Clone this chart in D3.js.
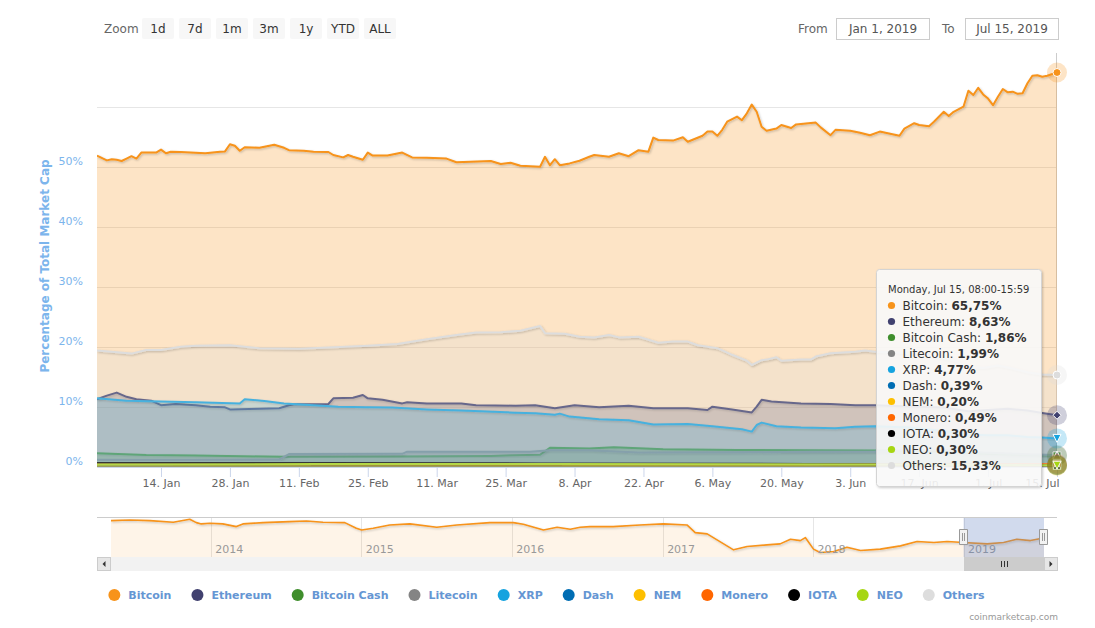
<!DOCTYPE html>
<html>
  <head>
    <meta charset="utf-8">
    <title>Percentage of Total Market Cap</title>
    <script src="https://d3js.org/d3.v7.min.js"></script>
    <style>
      body { margin: 0; background: #ffffff; }
      #canvas { display: block; font-family: "DejaVu Sans", sans-serif; }
    </style>
  </head>

  <body>
    <svg id="canvas" width="1095" height="628"></svg>
    <script>
      // values, percent of total market cap
      const bitcoin = [
        ["2019-01-01", 51.9], ["2019-01-03", 51.1], ["2019-01-04", 51.3], ["2019-01-05", 51.2],
        ["2019-01-06", 51.0], ["2019-01-07", 51.4], ["2019-01-08", 51.8], ["2019-01-09", 51.4],
        ["2019-01-10", 52.4], ["2019-01-13", 52.4], ["2019-01-14", 52.9], ["2019-01-15", 52.3],
        ["2019-01-16", 52.55], ["2019-01-18", 52.5], ["2019-01-23", 52.3], ["2019-01-26", 52.55],
        ["2019-01-27", 52.6], ["2019-01-28", 53.8], ["2019-01-29", 53.55], ["2019-01-30", 52.7],
        ["2019-01-31", 53.3], ["2019-02-03", 53.2], ["2019-02-06", 53.7], ["2019-02-08", 53.2],
        ["2019-02-09", 52.8], ["2019-02-12", 52.7], ["2019-02-14", 52.55], ["2019-02-17", 52.5],
        ["2019-02-18", 52.0], ["2019-02-20", 51.6], ["2019-02-21", 52.0], ["2019-02-22", 51.7],
        ["2019-02-24", 51.2], ["2019-02-25", 52.4], ["2019-02-26", 51.9], ["2019-03-01", 51.9],
        ["2019-03-04", 52.4], ["2019-03-06", 51.6], ["2019-03-09", 51.55], ["2019-03-13", 51.4],
        ["2019-03-15", 50.8], ["2019-03-22", 51.0], ["2019-03-24", 50.5], ["2019-03-26", 50.7],
        ["2019-03-28", 50.2], ["2019-04-01", 50.05], ["2019-04-02", 51.7], ["2019-04-03", 50.3],
        ["2019-04-04", 51.3], ["2019-04-05", 50.3], ["2019-04-07", 50.6], ["2019-04-09", 51.05],
        ["2019-04-11", 51.7], ["2019-04-12", 52.0], ["2019-04-15", 51.7], ["2019-04-17", 52.3],
        ["2019-04-19", 51.8], ["2019-04-21", 52.8], ["2019-04-23", 52.55], ["2019-04-24", 54.9],
        ["2019-04-25", 54.5], ["2019-04-28", 54.4], ["2019-04-30", 54.95], ["2019-05-01", 54.2],
        ["2019-05-04", 55.2], ["2019-05-05", 55.9], ["2019-05-06", 55.9], ["2019-05-07", 55.2],
        ["2019-05-08", 56.2], ["2019-05-09", 57.55], ["2019-05-11", 58.4], ["2019-05-12", 57.8],
        ["2019-05-13", 58.95], ["2019-05-14", 60.4], ["2019-05-15", 59.2], ["2019-05-16", 56.7],
        ["2019-05-17", 56.05], ["2019-05-19", 56.4], ["2019-05-20", 57.0], ["2019-05-22", 56.5],
        ["2019-05-23", 57.1], ["2019-05-27", 57.4], ["2019-05-28", 56.6], ["2019-05-30", 55.3],
        ["2019-05-31", 56.2], ["2019-06-03", 56.05], ["2019-06-05", 55.7], ["2019-06-07", 55.3],
        ["2019-06-09", 55.9], ["2019-06-13", 55.2], ["2019-06-14", 56.4], ["2019-06-16", 57.3],
        ["2019-06-17", 57.0], ["2019-06-19", 56.8], ["2019-06-20", 57.55], ["2019-06-22", 59.2],
        ["2019-06-23", 58.5], ["2019-06-24", 59.2], ["2019-06-26", 60.05], ["2019-06-27", 62.7],
        ["2019-06-28", 62.0], ["2019-06-29", 63.2], ["2019-06-30", 62.1], ["2019-07-01", 61.4],
        ["2019-07-02", 60.3], ["2019-07-03", 61.7], ["2019-07-04", 63.0], ["2019-07-05", 62.45],
        ["2019-07-06", 62.55], ["2019-07-07", 62.2], ["2019-07-08", 62.3], ["2019-07-09", 63.95],
        ["2019-07-10", 65.2], ["2019-07-11", 65.3], ["2019-07-12", 65.05], ["2019-07-13", 65.2],
        ["2019-07-15", 65.75]
      ];
      const ethereum = [
        ["2019-01-01", 11.3], ["2019-01-03", 11.9], ["2019-01-05", 12.4], ["2019-01-07", 11.7],
        ["2019-01-09", 11.3], ["2019-01-12", 11.05], ["2019-01-14", 10.3], ["2019-01-17", 10.5],
        ["2019-01-21", 10.3], ["2019-01-24", 10.05], ["2019-01-27", 9.95], ["2019-01-28", 9.6],
        ["2019-02-03", 9.7], ["2019-02-07", 9.8], ["2019-02-09", 10.3], ["2019-02-10", 10.45],
        ["2019-02-17", 10.5], ["2019-02-18", 11.45], ["2019-02-22", 11.55], ["2019-02-24", 12.0],
        ["2019-02-25", 11.45], ["2019-02-28", 11.2], ["2019-03-04", 10.6], ["2019-03-05", 10.8],
        ["2019-03-09", 10.6], ["2019-03-16", 10.6], ["2019-03-19", 10.3], ["2019-03-27", 10.2],
        ["2019-03-31", 10.3], ["2019-04-04", 9.8], ["2019-04-08", 10.3], ["2019-04-13", 9.95],
        ["2019-04-19", 10.2], ["2019-04-24", 9.8], ["2019-05-01", 9.8], ["2019-05-05", 9.5],
        ["2019-05-06", 10.05], ["2019-05-10", 9.6], ["2019-05-14", 9.1], ["2019-05-15", 10.05],
        ["2019-05-16", 11.2], ["2019-05-18", 10.9], ["2019-05-24", 10.6], ["2019-05-30", 10.5],
        ["2019-06-04", 10.3], ["2019-06-08", 10.3], ["2019-06-15", 10.1], ["2019-06-22", 9.9],
        ["2019-06-27", 9.3], ["2019-07-01", 9.5], ["2019-07-05", 9.7], ["2019-07-09", 9.4],
        ["2019-07-12", 9.0], ["2019-07-15", 8.63]
      ];
      const bitcoinCash = [
        ["2019-01-01", 2.3], ["2019-01-11", 2.0], ["2019-01-21", 1.9], ["2019-02-08", 1.7],
        ["2019-03-02", 1.75], ["2019-03-22", 1.85], ["2019-04-01", 2.05], ["2019-04-03", 3.2],
        ["2019-04-11", 3.1], ["2019-04-16", 3.3], ["2019-04-26", 2.95], ["2019-05-11", 2.85],
        ["2019-05-26", 2.8], ["2019-06-08", 2.75], ["2019-06-20", 2.6], ["2019-06-30", 2.2],
        ["2019-07-10", 2.0], ["2019-07-15", 1.86]
      ];
      const litecoin = [
        ["2019-01-01", 1.2], ["2019-01-21", 1.2], ["2019-02-07", 1.25], ["2019-02-09", 2.15],
        ["2019-03-04", 2.2], ["2019-03-05", 2.55], ["2019-03-30", 2.55], ["2019-04-03", 2.8],
        ["2019-04-11", 2.8], ["2019-04-21", 2.4], ["2019-05-11", 2.45], ["2019-05-26", 2.55],
        ["2019-06-08", 2.6], ["2019-06-20", 2.9], ["2019-06-30", 2.4], ["2019-07-10", 2.1],
        ["2019-07-15", 1.99]
      ];
      const xrp = [
        ["2019-01-01", 11.45], ["2019-01-07", 11.05], ["2019-01-14", 10.9], ["2019-01-21", 10.8],
        ["2019-01-30", 10.6], ["2019-01-31", 11.3], ["2019-02-04", 11.0], ["2019-02-08", 10.6],
        ["2019-02-14", 10.3], ["2019-02-19", 10.05], ["2019-02-25", 9.95], ["2019-03-02", 9.9],
        ["2019-03-09", 9.6], ["2019-03-16", 9.4], ["2019-03-27", 9.05], ["2019-03-31", 8.95],
        ["2019-04-04", 8.7], ["2019-04-05", 8.9], ["2019-04-07", 8.4], ["2019-04-13", 7.95],
        ["2019-04-19", 7.8], ["2019-04-24", 7.1], ["2019-05-01", 7.15], ["2019-05-06", 6.8],
        ["2019-05-12", 6.3], ["2019-05-14", 5.9], ["2019-05-15", 7.0], ["2019-05-16", 7.4],
        ["2019-05-19", 6.8], ["2019-05-24", 6.6], ["2019-05-31", 6.45], ["2019-06-04", 6.7],
        ["2019-06-08", 6.8], ["2019-06-15", 6.6], ["2019-06-22", 6.0], ["2019-06-27", 5.4],
        ["2019-07-01", 5.3], ["2019-07-05", 5.3], ["2019-07-09", 5.0], ["2019-07-12", 4.9],
        ["2019-07-15", 4.77]
      ];
      const dash = [
        ["2019-01-01", 0.6], ["2019-02-15", 0.62], ["2019-04-01", 0.6], ["2019-05-15", 0.55],
        ["2019-06-15", 0.45], ["2019-07-15", 0.39]
      ];
      const nem = [
        ["2019-01-01", 0.45], ["2019-02-15", 0.38], ["2019-04-01", 0.34], ["2019-05-15", 0.27],
        ["2019-06-15", 0.24], ["2019-07-15", 0.2]
      ];
      const monero = [
        ["2019-01-01", 0.59], ["2019-02-15", 0.57], ["2019-04-01", 0.52], ["2019-05-15", 0.5],
        ["2019-06-15", 0.52], ["2019-07-15", 0.49]
      ];
      const iota = [
        ["2019-01-01", 0.76], ["2019-02-15", 0.65], ["2019-04-01", 0.6], ["2019-05-15", 0.55],
        ["2019-06-15", 0.4], ["2019-07-15", 0.3]
      ];
      const neo = [
        ["2019-01-01", 0.42], ["2019-02-15", 0.5], ["2019-04-01", 0.52], ["2019-05-15", 0.45],
        ["2019-06-15", 0.4], ["2019-07-15", 0.3]
      ];
      const others = [
        ["2019-01-01", 19.4], ["2019-01-08", 18.9], ["2019-01-11", 19.5], ["2019-01-14", 19.5],
        ["2019-01-18", 20.05], ["2019-01-21", 20.2], ["2019-01-28", 20.3], ["2019-02-03", 19.8],
        ["2019-02-11", 19.7], ["2019-02-17", 19.9], ["2019-02-25", 20.2], ["2019-03-03", 20.5],
        ["2019-03-09", 21.3], ["2019-03-15", 22.0], ["2019-03-19", 22.4], ["2019-03-24", 22.45],
        ["2019-03-28", 22.7], ["2019-04-01", 23.5], ["2019-04-02", 22.3], ["2019-04-06", 22.2],
        ["2019-04-09", 21.7], ["2019-04-12", 21.6], ["2019-04-15", 22.0], ["2019-04-17", 21.6],
        ["2019-04-21", 21.7], ["2019-04-25", 20.7], ["2019-04-28", 20.9], ["2019-05-01", 20.9],
        ["2019-05-03", 20.3], ["2019-05-07", 19.8], ["2019-05-10", 18.7], ["2019-05-13", 17.7],
        ["2019-05-14", 17.0], ["2019-05-16", 17.8], ["2019-05-17", 17.9], ["2019-05-19", 18.3],
        ["2019-05-20", 17.7], ["2019-05-24", 17.9], ["2019-05-26", 17.9], ["2019-05-27", 18.4],
        ["2019-05-30", 18.95], ["2019-06-04", 19.2], ["2019-06-06", 19.4], ["2019-06-08", 19.2],
        ["2019-06-15", 19.0], ["2019-06-21", 18.3], ["2019-06-24", 17.8], ["2019-06-27", 16.7],
        ["2019-06-30", 16.5], ["2019-07-03", 16.9], ["2019-07-06", 16.4], ["2019-07-09", 15.8],
        ["2019-07-12", 15.4], ["2019-07-15", 15.33]
      ];
      // navigator: bitcoin share over the whole history
      const navBitcoin = [
        ["2013-05-04", 95.0], ["2013-06-19", 96.3], ["2013-08-06", 95.0], ["2013-10-02", 91.9],
        ["2013-11-11", 97.7], ["2013-11-27", 91.2], ["2013-12-09", 88.7], ["2013-12-30", 90.0],
        ["2014-01-30", 88.7], ["2014-03-04", 83.5], ["2014-03-20", 88.7], ["2014-05-08", 91.2],
        ["2014-07-11", 93.1], ["2014-08-21", 94.4], ["2014-09-30", 91.9], ["2014-11-22", 91.2],
        ["2014-12-20", 80.4], ["2015-01-02", 77.1], ["2015-01-30", 80.4], ["2015-03-11", 86.7],
        ["2015-04-29", 88.7], ["2015-07-03", 82.3], ["2015-08-21", 86.7], ["2015-11-09", 91.2],
        ["2016-01-05", 91.2], ["2016-01-29", 88.1], ["2016-03-18", 77.1], ["2016-04-20", 82.3],
        ["2016-05-22", 78.5], ["2016-06-15", 82.3], ["2016-07-09", 83.5], ["2016-09-03", 83.5],
        ["2016-11-07", 86.7], ["2017-01-03", 88.7], ["2017-03-01", 86.7], ["2017-03-21", 72.0],
        ["2017-04-19", 69.5], ["2017-05-13", 58.0], ["2017-06-06", 46.4], ["2017-06-22", 38.8],
        ["2017-07-25", 45.1], ["2017-09-11", 48.4], ["2017-10-13", 50.3], ["2017-11-07", 59.3],
        ["2017-12-01", 56.6], ["2017-12-13", 62.4], ["2018-01-02", 40.1], ["2018-01-18", 33.6],
        ["2018-02-20", 35.5], ["2018-03-24", 43.9], ["2018-04-26", 37.4], ["2018-06-13", 40.1],
        ["2018-08-01", 46.4], ["2018-09-10", 54.7], ["2018-10-21", 52.8], ["2018-11-22", 54.7],
        ["2019-01-01", 52.8], ["2019-02-27", 50.3], ["2019-04-08", 52.8], ["2019-05-10", 59.3],
        ["2019-06-12", 56.6], ["2019-07-11", 61.2], ["2019-07-15", 61.8]
      ];

      const coins = ["Bitcoin", "Ethereum", "Bitcoin Cash", "Litecoin", "XRP", "Dash", "NEM", "Monero", "IOTA", "NEO", "Others"];
      const seriesValues = [bitcoin, ethereum, bitcoinCash, litecoin, xrp, dash, nem, monero, iota, neo, others];
      const xTicks = ["2019-01-14", "2019-01-28", "2019-02-11", "2019-02-25", "2019-03-11", "2019-03-25", "2019-04-08",
        "2019-04-22", "2019-05-06", "2019-05-20", "2019-06-03", "2019-06-17", "2019-07-01", "2019-07-15"];
      const yGrid = [0, 10, 20, 30, 40, 50, 60];
      const yLabels = [0, 10, 20, 30, 40, 50];
      const zoomButtons = ["1d", "7d", "1m", "3m", "1y", "YTD", "ALL"];
      const tooltipPeriod = "08:00-15:59";

      // styles
      const colours = ["#f7931a", "#41416f", "#3f8e2c", "#848484", "#16a3df", "#006db3",
        "#fdbf00", "#ff6600", "#000000", "#a6d612", "#dddddd"];
      const shapes = ["circle", "diamond", "square", "triangle", "triangle-down"];
      const legendColour = "#6596d3";
      const axisColour = "#7cb5ec";

      const parseDate = d3.timeParse("%Y-%m-%d");
      const series = coins.map(function(name, i) {
        return {
          name: name,
          colour: colours[i],
          shape: shapes[i % shapes.length],
          values: seriesValues[i].map(function(d) { return [parseDate(d[0]), d[1]]; })
        };
      });
      const navData = navBitcoin.map(function(d) { return [parseDate(d[0]), d[1]]; });

      // page geometry
      const plotLeft = 97, plotRight = 1057, plotTop = 53, plotBottom = 467;
      const navTop = 517, navBottom = 557, scrollBottom = 571;

      const canvas = d3.select("#canvas");
      const defs = canvas.append("defs");
      defs.append("clipPath")
          .attr("id", "plotClip")
        .append("rect")
          .attr("x", plotLeft)
          .attr("y", plotTop)
          .attr("width", plotRight - plotLeft)
          .attr("height", plotBottom - plotTop);
      defs.append("clipPath")
          .attr("id", "navClip")
        .append("rect")
          .attr("x", plotLeft)
          .attr("y", navTop)
          .attr("width", plotRight - plotLeft)
          .attr("height", navBottom - navTop);
      defs.append("filter")
          .attr("id", "shadow")
          .attr("x", "-5%").attr("y", "-5%").attr("width", "110%").attr("height", "110%")
        .append("feDropShadow")
          .attr("dx", 1).attr("dy", 1)
          .attr("stdDeviation", 0.9)
          .attr("flood-color", "#000")
          .attr("flood-opacity", 0.22);

      // scales
      const x = d3.scaleTime()
        .domain(d3.extent(bitcoin, function(d) { return parseDate(d[0]); }))
        .range([plotLeft, plotRight]);
      const y = d3.scaleLinear()
        .domain([0, 69])
        .range([plotBottom, plotTop]);

      // grid lines and y labels
      canvas.append("g")
        .selectAll("line")
          .data(yGrid)
        .enter().append("line")
          .attr("x1", plotLeft)
          .attr("x2", plotRight)
          .attr("y1", function(d) { return Math.round(y(d)) + 0.5; })
          .attr("y2", function(d) { return Math.round(y(d)) + 0.5; })
          .attr("stroke", "#e6e6e6");
      canvas.append("g")
        .selectAll("text")
          .data(yLabels)
        .enter().append("text")
          .attr("x", 83)
          .attr("y", function(d) { return y(d) - 2; })
          .attr("text-anchor", "end")
          .attr("font-size", 11)
          .attr("fill", axisColour)
          .text(function(d) { return d + "%"; });
      canvas.append("text")
        .attr("transform", "translate(49," + ((plotTop + plotBottom) / 2 + 6) + ") rotate(-90)")
        .attr("text-anchor", "middle")
        .attr("font-size", 12)
        .attr("font-weight", "bold")
        .attr("fill", axisColour)
        .text("Percentage of Total Market Cap");

      // crosshair at the hovered point
      const lastDate = series[0].values[series[0].values.length - 1][0];
      canvas.append("line")
        .attr("x1", Math.round(x(lastDate)) - 0.5)
        .attr("x2", Math.round(x(lastDate)) - 0.5)
        .attr("y1", plotTop)
        .attr("y2", plotBottom)
        .attr("stroke", "#cccccc");

      // area series, drawn in order so later coins sit on top
      const area = d3.area()
        .x(function(d) { return x(d[0]); })
        .y0(y(0))
        .y1(function(d) { return y(d[1]); });
      const line = d3.line()
        .x(function(d) { return x(d[0]); })
        .y(function(d) { return y(d[1]); });
      const seriesGroups = canvas.append("g")
          .attr("clip-path", "url(#plotClip)")
        .selectAll(".series")
          .data(series)
        .enter().append("g")
          .classed("series", true);
      seriesGroups.append("path")
        .attr("d", function(d) { return area(d.values); })
        .attr("fill", function(d) { return d.colour; })
        .attr("fill-opacity", 0.25);
      seriesGroups.append("path")
        .attr("d", function(d) { return line(d.values); })
        .attr("fill", "none")
        .attr("stroke", function(d) { return d.colour; })
        .attr("stroke-width", 2)
        .attr("stroke-linejoin", "round")
        .attr("filter", "url(#shadow)");

      // x axis, the last label is kept inside the plot
      const xAxis = canvas.append("g")
        .attr("transform", "translate(0," + plotBottom + ")")
        .call(d3.axisBottom(x)
          .tickValues(xTicks.map(parseDate))
          .tickFormat(d3.timeFormat("%-d. %b"))
          .tickSize(10)
          .tickPadding(2)
          .tickSizeOuter(0));
      xAxis.select(".domain").attr("stroke", "#ccd6eb");
      xAxis.selectAll(".tick line").attr("stroke", "#ccd6eb");
      xAxis.selectAll(".tick text")
        .attr("fill", "#666666")
        .attr("font-size", 11)
        .attr("font-family", "DejaVu Sans")
        .filter(function(d, i) { return i == xTicks.length - 1; })
          .attr("text-anchor", "end")
          .attr("x", 2);

      // hover markers with halos
      function markerPath(shape, r) {
        if (shape == "diamond") return "M0," + (-r) + "L" + r + ",0L0," + r + "L" + (-r) + ",0Z";
        if (shape == "square") return "M" + (-r) + "," + (-r) + "h" + (2 * r) + "v" + (2 * r) + "h" + (-2 * r) + "Z";
        if (shape == "triangle") return "M0," + (-r) + "L" + r + "," + r + "L" + (-r) + "," + r + "Z";
        if (shape == "triangle-down") return "M" + (-r) + "," + (-r) + "L" + r + "," + (-r) + "L0," + r + "Z";
        return "M" + (-r) + ",0a" + r + "," + r + " 0 1,0 " + (2 * r) + ",0a" + r + "," + r + " 0 1,0 " + (-2 * r) + ",0Z";
      }
      const markers = canvas.append("g")
        .selectAll("g")
          .data(series)
        .enter().append("g")
          .attr("transform", function(d) {
            let last = d.values[d.values.length - 1];
            return "translate(" + x(last[0]) + "," + y(last[1]) + ")";
          });
      markers.append("circle")
        .attr("r", 10)
        .attr("fill", function(d) { return d.colour; })
        .attr("fill-opacity", 0.25);
      markers.append("path")
        .attr("d", function(d) { return markerPath(d.shape, 4); })
        .attr("fill", function(d) { return d.colour; })
        .attr("stroke", "#ffffff")
        .attr("stroke-width", 1);

      // tooltip
      const decimal = d3.format(".2f");
      const tooltip = canvas.append("g")
        .attr("transform", "translate(876.5,269.5)");
      tooltip.append("rect")
        .attr("width", 165)
        .attr("height", 217)
        .attr("rx", 3)
        .attr("fill", "rgba(252,252,252,0.88)")
        .attr("stroke", "#d4d4d4")
        .attr("filter", "url(#shadow)");
      tooltip.append("text")
        .attr("x", 11.5)
        .attr("y", 23.5)
        .attr("font-size", 10)
        .attr("fill", "#333333")
        .text(d3.timeFormat("%A, %b %-d")(lastDate) + ", " + tooltipPeriod);
      const rows = tooltip.selectAll(".row")
          .data(series)
        .enter().append("g")
          .classed("row", true)
          .attr("transform", function(d, i) { return "translate(0," + (36 + i * 16) + ")"; });
      rows.append("circle")
        .attr("cx", 15)
        .attr("r", 3.6)
        .attr("fill", function(d) { return d.colour; });
      let rowText = rows.append("text")
        .attr("x", 26)
        .attr("y", 4.3)
        .attr("font-size", 12)
        .attr("fill", "#333333");
      rowText.append("tspan")
        .text(function(d) { return d.name + ": "; });
      rowText.append("tspan")
        .attr("font-weight", "bold")
        .text(function(d) { return decimal(d.values[d.values.length - 1][1]).replace(".", ",") + "%"; });

      // range selector
      canvas.append("text")
        .attr("x", 104)
        .attr("y", 33)
        .attr("font-size", 12)
        .attr("fill", "#666666")
        .text("Zoom");
      const buttons = canvas.append("g")
        .selectAll("g")
          .data(zoomButtons)
        .enter().append("g")
          .attr("transform", function(d, i) { return "translate(" + (142 + i * 37) + ",18)"; });
      buttons.append("rect")
        .attr("width", 32)
        .attr("height", 21)
        .attr("rx", 2)
        .attr("fill", "#f7f7f7");
      buttons.append("text")
        .attr("x", 16)
        .attr("y", 15)
        .attr("text-anchor", "middle")
        .attr("font-size", 12)
        .attr("fill", "#333333")
        .text(function(d) { return d; });

      const inputFormat = d3.timeFormat("%b %-d, %Y");
      const inputs = [
        {label: "From", lx: 798, bx: 836, value: inputFormat(x.domain()[0])},
        {label: "To", lx: 942, bx: 965, value: inputFormat(x.domain()[1])}
      ];
      const inputGroups = canvas.append("g")
        .selectAll("g")
          .data(inputs)
        .enter().append("g");
      inputGroups.append("text")
        .attr("x", function(d) { return d.lx; })
        .attr("y", 33)
        .attr("font-size", 12)
        .attr("fill", "#666666")
        .text(function(d) { return d.label; });
      inputGroups.append("rect")
        .attr("x", function(d) { return d.bx + 0.5; })
        .attr("y", 18.5)
        .attr("width", 93)
        .attr("height", 21)
        .attr("fill", "#ffffff")
        .attr("stroke", "#cccccc");
      inputGroups.append("text")
        .attr("x", function(d) { return d.bx + 47; })
        .attr("y", 33)
        .attr("text-anchor", "middle")
        .attr("font-size", 12)
        .attr("fill", "#555555")
        .text(function(d) { return d.value; });

      // navigator
      const navX = d3.scaleTime()
        .domain(d3.extent(navData, function(d) { return d[0]; }))
        .range([111, 1044]);
      const navY = d3.scaleLinear()
        .domain([25, 102])
        .range([navBottom, navTop]);
      const navigator = canvas.append("g");
      const years = d3.timeYear.range(d3.timeYear.ceil(navX.domain()[0]), navX.domain()[1]);
      navigator.append("g")
        .selectAll("line")
          .data(years)
        .enter().append("line")
          .attr("x1", function(d) { return Math.round(navX(d)) + 0.5; })
          .attr("x2", function(d) { return Math.round(navX(d)) + 0.5; })
          .attr("y1", navTop)
          .attr("y2", navBottom)
          .attr("stroke", "#e6e6e6");
      const navSeries = navigator.append("g")
        .attr("clip-path", "url(#navClip)");
      navSeries.append("path")
        .datum(navData)
        .attr("d", d3.area()
          .x(function(d) { return navX(d[0]); })
          .y0(navBottom)
          .y1(function(d) { return navY(d[1]); }))
        .attr("fill", colours[0])
        .attr("fill-opacity", 0.1);
      navSeries.append("path")
        .datum(navData)
        .attr("d", d3.line()
          .x(function(d) { return navX(d[0]); })
          .y(function(d) { return navY(d[1]); }))
        .attr("fill", "none")
        .attr("stroke", colours[0])
        .attr("stroke-width", 1.6)
        .attr("stroke-linejoin", "round")
        .attr("filter", "url(#shadow)");
      navigator.append("g")
        .selectAll("text")
          .data(years)
        .enter().append("text")
          .attr("x", function(d) { return navX(d) + 4.5; })
          .attr("y", 553)
          .attr("font-size", 11)
          .attr("fill", "#999999")
          .text(d3.timeFormat("%Y"));
      navigator.append("line")
        .attr("x1", plotLeft)
        .attr("x2", plotRight)
        .attr("y1", navTop + 0.5)
        .attr("y2", navTop + 0.5)
        .attr("stroke", "#cccccc");
      const maskLeft = navX(x.domain()[0]), maskRight = navX(x.domain()[1]);
      navigator.append("rect")
        .attr("x", maskLeft)
        .attr("y", navTop + 1)
        .attr("width", maskRight - maskLeft)
        .attr("height", navBottom - navTop - 1)
        .attr("fill", "rgba(102,133,194,0.3)");
      navigator.append("g")
        .selectAll("path")
          .data([maskLeft, maskRight])
        .enter().append("path")
          .attr("transform", function(d) { return "translate(" + Math.round(d) + "," + (navTop + 12) + ")"; })
          .attr("d", "M -4.5 0.5 L 3.5 0.5 L 3.5 15.5 L -4.5 15.5 Z M -1.5 4 L -1.5 12 M 0.5 4 L 0.5 12")
          .attr("fill", "#f2f2f2")
          .attr("stroke", "#999999");

      // scrollbar
      const scrollbar = canvas.append("g");
      scrollbar.append("rect")
        .attr("x", plotLeft)
        .attr("y", navBottom)
        .attr("width", plotRight - plotLeft + 1)
        .attr("height", scrollBottom - navBottom)
        .attr("fill", "#f2f2f2");
      scrollbar.append("rect")
        .attr("x", Math.round(maskLeft) + 0.5)
        .attr("y", navBottom + 0.5)
        .attr("width", Math.round(maskRight - maskLeft))
        .attr("height", scrollBottom - navBottom - 1)
        .attr("fill", "#cccccc")
        .attr("stroke", "#cccccc");
      let rifleX = Math.round((maskLeft + maskRight) / 2);
      scrollbar.append("path")
        .attr("d", [-3, 0, 3].map(function(o) {
          return "M" + (rifleX + o + 0.5) + "," + (navBottom + 4) + "V" + (scrollBottom - 4);
        }).join(""))
        .attr("stroke", "#333333");
      const arrows = [
        {x: plotLeft, d: "M 2 -3 L 2 3 L -1 0 Z"},
        {x: plotRight - 13, d: "M -1 -3 L -1 3 L 2 0 Z"}
      ];
      const arrowGroups = scrollbar.selectAll(".arrow")
          .data(arrows)
        .enter().append("g")
          .classed("arrow", true)
          .attr("transform", function(d) { return "translate(" + d.x + "," + navBottom + ")"; });
      arrowGroups.append("rect")
        .attr("x", 0.5)
        .attr("y", 0.5)
        .attr("width", 13)
        .attr("height", scrollBottom - navBottom - 1)
        .attr("fill", "#e6e6e6")
        .attr("stroke", "#cccccc");
      arrowGroups.append("path")
        .attr("transform", "translate(6.5,7)")
        .attr("d", function(d) { return d.d; })
        .attr("fill", "#333333");

      // legend, centred
      const legend = canvas.append("g");
      const items = legend.selectAll("g")
          .data(series)
        .enter().append("g");
      items.append("circle")
        .attr("cx", 6)
        .attr("cy", 0)
        .attr("r", 6)
        .attr("fill", function(d) { return d.colour; });
      items.append("text")
        .attr("x", 20)
        .attr("y", 4)
        .attr("font-size", 11)
        .attr("font-weight", "bold")
        .attr("fill", legendColour)
        .text(function(d) { return d.name; });
      let widths = [];
      items.each(function() { widths.push(20 + this.querySelector("text").getComputedTextLength()); });
      let gap = 20;
      let total = d3.sum(widths) + gap * (widths.length - 1);
      let cursor = (1093 - total) / 2;
      items.attr("transform", function(d, i) {
        let pos = cursor;
        cursor = cursor + widths[i] + gap;
        return "translate(" + pos + ",595)";
      });

      // credit
      canvas.append("text")
        .attr("x", 1058)
        .attr("y", 620)
        .attr("text-anchor", "end")
        .attr("font-size", 9)
        .attr("fill", "#999999")
        .text("coinmarketcap.com");
    </script>
  </body>
</html>
